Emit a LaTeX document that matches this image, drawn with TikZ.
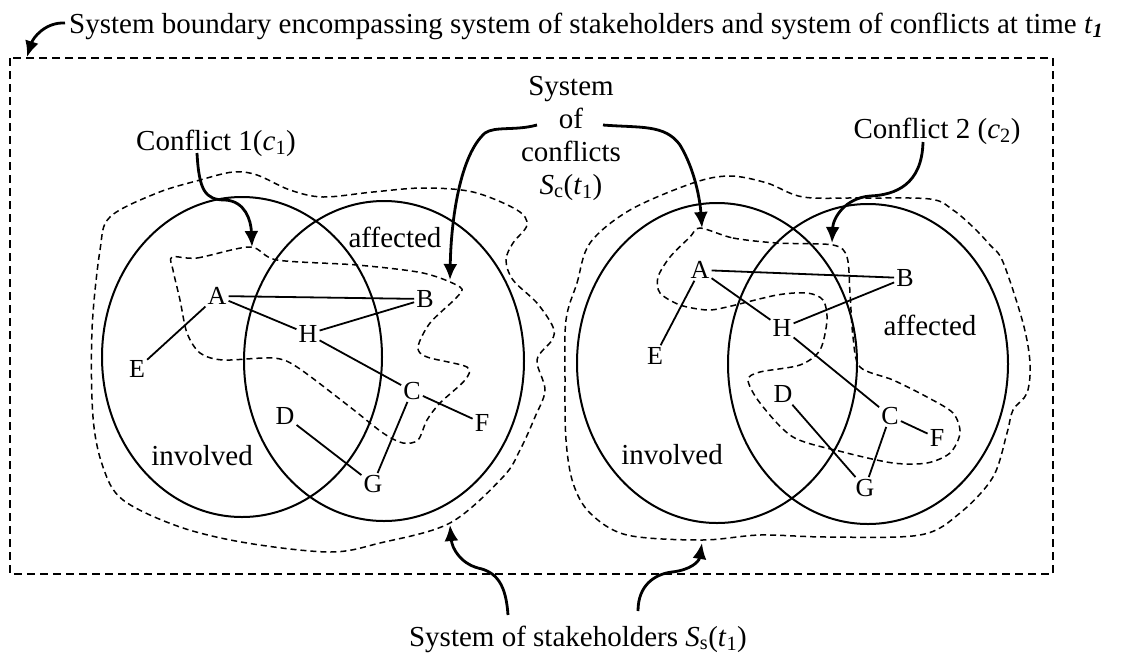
\documentclass[tikz,border=0pt]{standalone}
\usepackage{fontspec}
\setmainfont{Liberation Serif}
\usetikzlibrary{arrows.meta,calc}
\begin{document}
\begin{tikzpicture}[x=1pt,y=-1pt,
  lbl/.style={font=\fontsize{29}{33}\selectfont, inner sep=1pt},
  ltr/.style={font=\fontsize{26}{28}\selectfont, inner sep=2pt},
  ell/.style={line width=2pt},
  blob/.style={line width=1.5pt, dash pattern=on 6pt off 4pt},
  frame/.style={line width=1.8pt, dash pattern=on 8pt off 5pt},
  edge/.style={line width=1.8pt},
  ptr/.style={line width=2.8pt, -{Latex[length=16pt,width=14pt]}},
]
\useasboundingbox (0,0) rectangle (1125,657);

% outer system boundary
\draw[frame] (10,58) rectangle (1053,574);

% title
\node[lbl, anchor=base west] (title) at (68,33) {System boundary encompassing system of stakeholders and system of conflicts at time \textit{t}\textsubscript{\textit{\textbf{1}}}};
\coordinate (tts) at (65,23);
\coordinate (ttt) at (27,57);
\draw[ptr] (tts) .. controls (45,22) and (33,38) .. (ttt);

% ellipses
\draw[ell] (242,357) ellipse [x radius=140, y radius=160];
\draw[ell] (384,361) ellipse [x radius=140, y radius=160];
\draw[ell] (717,363) ellipse [x radius=140, y radius=160];
\draw[ell] (868,364) ellipse [x radius=140, y radius=160];

% stakeholder blobs
\draw[blob] plot[smooth cycle, tension=0.55] coordinates {
 (92,330) (100,250) (110,217) (157,193) (200,180) (233,172) (257,175) (290,190)
 (323,197) (373,192) (423,188) (473,192) (517,210) (527,225) (513,243) (506,260)
 (513,280) (537,303) (553,327) (552,340) (537,360) (545,390) (535,417) (520,450)
 (503,477) (450,523) (380,543) (330,552) (247,543) (180,527) (123,500) (103,467)
 (93,417)};
\draw[blob] plot[smooth cycle, tension=0.55] coordinates {
 (566,320) (577,283) (590,243) (630,210) (693,183) (730,176) (767,183) (803,197)
 (860,198) (930,199) (953,210) (973,227) (990,245) (1003,262) (1023,323) (1030,363)
 (1027,393) (1013,410) (1007,433) (993,477) (960,513) (920,535) (827,537) (760,535)
 (702,540) (627,535) (590,513) (573,483) (566,440) (565,380)};

% conflict blobs
\draw[blob] plot[smooth cycle, tension=0.5] coordinates {
 (172,257) (197,258) (250,247) (277,260) (357,265) (423,273) (460,287) (457,297)
 (430,323) (418,347) (427,357) (467,367) (465,380) (440,403) (427,420) (418,440)
 (403,443) (383,433) (350,407) (297,367) (273,358) (223,360) (200,353) (187,333)
 (180,300) (173,270)};
\draw[blob] plot[smooth cycle, tension=0.5] coordinates {
 (700,228) (733,238) (777,243) (833,245) (847,257) (850,293) (853,337) (860,367)
 (893,380) (927,397) (953,413) (960,433) (950,453) (927,463) (893,463) (843,452)
 (793,437) (760,403) (748,380) (760,372) (800,365) (820,350) (827,320) (823,300)
 (807,293) (777,295) (727,307) (707,310) (680,305) (660,293) (658,277) (670,257)
 (690,237)};

% left cluster letters
\node[ltr] (lA) at (217,296) {A};
\node[ltr] (lB) at (425,299) {B};
\node[ltr] (lH) at (308,334) {H};
\node[ltr] (lE) at (137,369) {E};
\node[ltr] (lC) at (412,391) {C};
\node[ltr] (lF) at (482,423) {F};
\node[ltr] (lD) at (285,416) {D};
\node[ltr] (lG) at (373,484) {G};
\node[lbl] (laff) at (395,237) {affected};
\node[lbl] (linv) at (202,456) {involved};

\draw[edge] (lA) -- (lB);
\draw[edge] (lA) -- (lH);
\draw[edge] (lB) -- (lH);
\draw[edge] (lA) -- (lE);
\draw[edge] (lH) -- (lC);
\draw[edge] (lC) -- (lF);
\draw[edge] (lC) -- (lG);
\draw[edge] (lD) -- (lG);

% right cluster letters
\node[ltr] (rA) at (700,270) {A};
\node[ltr] (rB) at (905,278) {B};
\node[ltr] (rH) at (782,328) {H};
\node[ltr] (rE) at (655,356) {E};
\node[ltr] (rD) at (783,394) {D};
\node[ltr] (rC) at (890,416) {C};
\node[ltr] (rF) at (937,438) {F};
\node[ltr] (rG) at (865,488) {G};
\node[lbl] (raff) at (930,325) {affected};
\node[lbl] (rinv) at (672,455) {involved};

\draw[edge] (rA) -- (rB);
\draw[edge] (rA) -- (rH);
\draw[edge] (rB) -- (rH);
\draw[edge] (rA) -- (rE);
\draw[edge] (rH) -- (rC);
\draw[edge] (rC) -- (rF);
\draw[edge] (rC) -- (rG);
\draw[edge] (rD) -- (rG);

% conflict labels
\node[lbl, anchor=base] (c1) at (216,150) {Conflict 1(\textit{c}\textsubscript{1})};
\node[lbl, anchor=base] (c2) at (937,138) {Conflict 2 (\textit{c}\textsubscript{2})};
\coordinate (c1s) at (197,153);
\coordinate (c1t) at (252,247);
\draw[ptr] (c1s) .. controls (199,190) and (205,200) .. (225,200) .. controls (245,201) and (251,220) .. (c1t);
\coordinate (c2s) at (923,142);
\coordinate (c2t) at (832,243);
\draw[ptr] (c2s) .. controls (922,185) and (895,195) .. (870,196) .. controls (845,198) and (833,218) .. (c2t);

% system of conflicts label
\node[lbl, align=center] (sc) at (571,138) {System\\of\\conflicts\\\textit{S}\textsubscript{c}(\textit{t}\textsubscript{1})};
\coordinate (scl) at (537,125);
\coordinate (sclt) at (450,280);
\coordinate (scr) at (603,125);
\coordinate (scrt) at (702,228);
\draw[ptr] (scl) .. controls (515,131) and (495,126) .. (485,133) .. controls (460,155) and (451,220) .. (sclt);
\draw[ptr] (scr) .. controls (640,128) and (665,124) .. (680,145) .. controls (695,170) and (700,200) .. (scrt);

% system of stakeholders label
\node[lbl, anchor=base] (ss) at (578,646) {System of stakeholders \textit{S}\textsubscript{s}(\textit{t}\textsubscript{1})};
\coordinate (ssl) at (508,615);
\coordinate (sslt) at (450,525);
\coordinate (ssr) at (638,611);
\coordinate (ssrt) at (702,543);
\draw[ptr] (ssl) .. controls (506,585) and (497,572) .. (478,568) .. controls (460,563) and (452,548) .. (sslt);
\draw[ptr] (ssr) .. controls (638,585) and (655,574) .. (672,572) .. controls (690,570) and (699,562) .. (ssrt);
\end{tikzpicture}
\end{document}
